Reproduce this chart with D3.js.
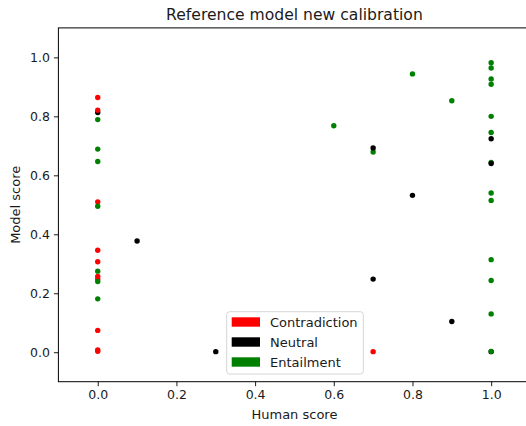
<!DOCTYPE html>
<html>
<head>
<meta charset="utf-8">
<script src="https://cdn.jsdelivr.net/npm/d3@7"></script>
<style>
  body { margin: 0; background: #fff; }
  svg text { font-family: "DejaVu Sans", sans-serif; fill: #1a1a1a; }
</style>
</head>
<body>
<div id="chart"></div>
<script>
/* data, in drawing order */
const humanScores = [
  0, 0, 0, 0, 0, 0, 0, 0, 0, 0, 0, 0, 0, 0, 0, 0, 0, 0,
  0.1, 0.3, 0.6, 0.7, 0.7, 0.7, 0.7, 0.8, 0.8, 0.9, 0.9,
  1, 1, 1, 1, 1, 1, 1, 1, 1, 1, 1, 1, 1, 1, 1, 1
];
const modelScores = [
  0.813, 0.864, 0.821, 0.789, 0.689, 0.647, 0.510, 0.495, 0.346, 0.307, 0.275, 0.257, 0.248, 0.240, 0.181, 0.074, 0.008, 0.003,
  0.377, 0.002, 0.768, 0.679, 0.693, 0.248, 0.002, 0.944, 0.532, 0.853, 0.104,
  0.982, 0.964, 0.927, 0.909, 0.800, 0.745, 0.724, 0.644, 0.640, 0.540, 0.515, 0.314, 0.243, 0.130, 0.002, 0.003
];
const labels = [
  "Neutral", "Contradiction", "Contradiction", "Entailment", "Entailment", "Entailment", "Contradiction", "Entailment",
  "Contradiction", "Contradiction", "Entailment", "Contradiction", "Contradiction", "Entailment", "Entailment",
  "Contradiction", "Contradiction", "Contradiction",
  "Neutral", "Neutral", "Entailment", "Entailment", "Neutral", "Neutral", "Contradiction", "Entailment", "Neutral",
  "Entailment", "Neutral",
  "Entailment", "Entailment", "Entailment", "Entailment", "Entailment", "Entailment", "Neutral", "Entailment", "Neutral",
  "Entailment", "Entailment", "Entailment", "Entailment", "Entailment", "Neutral", "Entailment"
];
const categories = ["Contradiction", "Neutral", "Entailment"];
const categoryColors = ["#ff0000", "#000000", "#008000"];
const tickValues = [0, 0.2, 0.4, 0.6, 0.8, 1.0];

const chartWidth = 526, chartHeight = 426;
const plotLeft = 58.4, plotRight = 530.5, plotTop = 27.9, plotBottom = 381.7;

const svg = d3.select("#chart").append("svg")
  .attr("width", chartWidth).attr("height", chartHeight);

const xScale = d3.scaleLinear().domain([-0.1, 1.1]).range([plotLeft, plotRight]);
const yScale = d3.scaleLinear().domain([-0.1, 1.1]).range([plotBottom, plotTop]);
const color = d3.scaleOrdinal().domain(categories).range(categoryColors);

const points = humanScores.map((h, i) => ({h: h, m: modelScores[i], label: labels[i]}));

/* axes */
const xAxis = d3.axisBottom(xScale).tickValues(tickValues).tickFormat(d3.format(".1f")).tickSize(4.5).tickPadding(4);
const yAxis = d3.axisLeft(yScale).tickValues(tickValues).tickFormat(d3.format(".1f")).tickSize(4.5).tickPadding(4);

const gx = svg.append("g").attr("transform", "translate(0," + plotBottom + ")").call(xAxis);
const gy = svg.append("g").attr("transform", "translate(" + plotLeft + ",0)").call(yAxis);
[gx, gy].forEach(g => {
  g.select(".domain").remove();
  g.selectAll("line").attr("stroke", "#000").attr("stroke-width", 0.9);
  g.selectAll("text").style("font-size", "12.5px").attr("fill", "#1a1a1a");
});

/* spines (right one sits just past the edge) */
svg.append("rect")
  .attr("x", plotLeft).attr("y", plotTop)
  .attr("width", plotRight - plotLeft).attr("height", plotBottom - plotTop)
  .attr("fill", "none").attr("stroke", "#000").attr("stroke-width", 1);

/* dots */
svg.append("g").selectAll("circle")
  .data(points)
  .enter()
  .append("circle")
  .attr("cx", d => xScale(d.h))
  .attr("cy", d => yScale(d.m))
  .attr("r", 2.7)
  .attr("fill", d => color(d.label));

/* titles */
svg.append("text")
  .attr("x", (plotLeft + plotRight) / 2).attr("y", 20)
  .attr("text-anchor", "middle")
  .style("font-size", "15.6px")
  .text("Reference model new calibration");

svg.append("text")
  .attr("x", (plotLeft + plotRight) / 2).attr("y", 419)
  .attr("text-anchor", "middle")
  .style("font-size", "13px")
  .text("Human score");

svg.append("text")
  .attr("transform", "translate(19.5," + (plotTop + plotBottom) / 2 + ") rotate(-90)")
  .attr("text-anchor", "middle")
  .style("font-size", "13px")
  .text("Model score");

/* legend */
const legend = svg.append("g").attr("transform", "translate(226.7,311.7)");
legend.append("rect")
  .attr("width", 136.6).attr("height", 62.3)
  .attr("rx", 3)
  .attr("fill", "#fff").attr("fill-opacity", 0.8)
  .attr("stroke", "#d6d6d6").attr("stroke-width", 1);

categories.forEach((c, i) => {
  const cy = 10.3 + i * 20;
  legend.append("rect")
    .attr("x", 5).attr("y", cy - 4.7)
    .attr("width", 28.3).attr("height", 9.4)
    .attr("fill", color(c));
  legend.append("text")
    .attr("x", 43.3).attr("y", cy + 5)
    .style("font-size", "13px")
    .text(c);
});
</script>
</body>
</html>
